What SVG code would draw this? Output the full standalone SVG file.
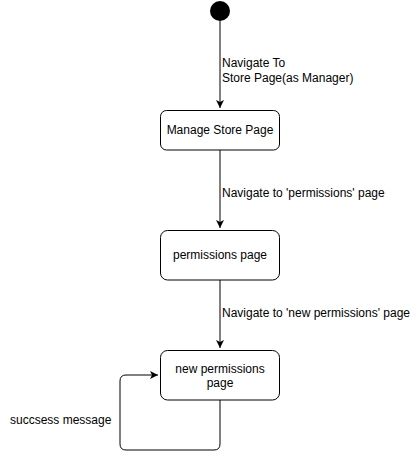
<svg xmlns="http://www.w3.org/2000/svg" width="411" height="459" viewBox="0 0 411 459">
<style>
.node{fill:#ffffff;stroke:#000000;stroke-width:1}
.edge{fill:none;stroke:#000000;stroke-width:1}
text{font-family:"Liberation Sans",Arial,sans-serif;font-size:12px;fill:#000000}
.c{text-anchor:middle}
</style>
<defs>
<marker id="arr" markerWidth="10" markerHeight="10" refX="8" refY="4" orient="auto" markerUnits="userSpaceOnUse">
<path d="M0,0 L8,4 L0,8 L2,4 Z" fill="#000"/>
</marker>
</defs>
<rect width="411" height="459" fill="#ffffff"/>
<g id="connectors">
<path class="edge" d="M220,21 V108" marker-end="url(#arr)"/>
<path class="edge" d="M220,150 V228" marker-end="url(#arr)"/>
<path class="edge" d="M220,280 V348" marker-end="url(#arr)"/>
<path class="edge" d="M220,400 V444 Q220,450 214,450 H126 Q120,450 120,444 V381 Q120,375 126,375 H158" marker-end="url(#arr)"/>
<text x="222" y="67">Navigate To</text>
<text x="222" y="82">Store Page(as Manager)</text>
<text x="222" y="197">Navigate to 'permissions' page</text>
<text x="222" y="317">Navigate to 'new permissions' page</text>
<text x="10" y="424">succsess message</text>
</g>
<g id="start">
<circle cx="220" cy="11" r="10" fill="#000000"/>
</g>
<g id="manage-store-page">
<rect class="node" x="160.5" y="110.5" width="119" height="39.5" rx="6"/>
<text class="c" x="220" y="134">Manage Store Page</text>
</g>
<g id="permissions-page">
<rect class="node" x="160.5" y="230.5" width="119" height="49.5" rx="7"/>
<text class="c" x="220" y="259">permissions page</text>
</g>
<g id="new-permissions-page">
<rect class="node" x="160.5" y="350.5" width="119" height="49.5" rx="7"/>
<text class="c" x="220" y="373">new permissions</text>
<text class="c" x="220" y="387">page</text>
</g>
</svg>
